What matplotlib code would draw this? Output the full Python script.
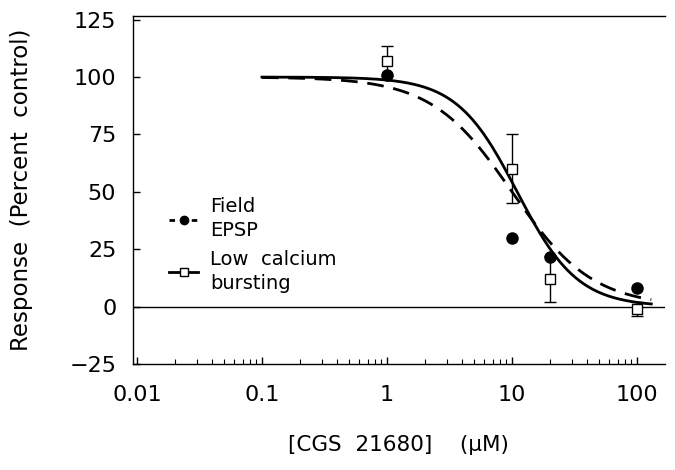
import numpy as np
import matplotlib
matplotlib.use("Agg")
import matplotlib.pyplot as plt
from matplotlib.lines import Line2D

plt.rcParams['font.family'] = ['DejaVu Sans']

# Data
conc = [1, 10, 20, 100]
field_epsp = [101, 30, 21.5, 8]
low_ca = [107, 60, 12, -1]
low_ca_err = [6.5, 15, 10, 3]

# Fitted logistic (Hill) parameters for the two curves
fit_solid_ic50, fit_solid_n = 11.0, 1.8     # Low calcium bursting
fit_dash_ic50, fit_dash_n = 10.0, 1.35      # Field EPSP
fit_range = (0.1, 130)

xticks = [0.01, 0.1, 1, 10, 100]
xticklabels = ['0.01', '0.1', '1', '10', '100']
yticks = [-25, 0, 25, 50, 75, 100, 125]

fig = plt.figure(figsize=(6.75, 4.7), dpi=100)
ax = fig.add_axes([0.197, 0.2255, 0.788, 0.74])

xs = np.logspace(np.log10(fit_range[0]), np.log10(fit_range[1]), 300)
hill = lambda x, ic, n: 100.0 / (1.0 + (x / ic) ** n)
ax.plot(xs, hill(xs, fit_dash_ic50, fit_dash_n), color='black', lw=2,
        dashes=(6, 3.5), zorder=3)
ax.plot(xs, hill(xs, fit_solid_ic50, fit_solid_n), color='black', lw=2, zorder=3)

ax.axhline(0, color='black', lw=1, zorder=2)

ax.errorbar(conc, low_ca, yerr=low_ca_err, fmt='s', ms=7, mfc='white',
            mec='black', mew=1, ecolor='black', elinewidth=1, capsize=4,
            capthick=1, zorder=4)
ax.plot(conc, field_epsp, 'o', ms=8, color='black', zorder=5)

ax.set_xscale('log')
ax.set_xlim(0.0093, 167)
ax.set_ylim(-25, 126.5)
ax.set_xticks(xticks)
ax.set_xticklabels(xticklabels)
ax.set_yticks(yticks)
ax.set_yticklabels(['\u221225' if v == -25 else str(v) for v in yticks])

ax.spines['right'].set_visible(False)
for s in ['left', 'bottom', 'top']:
    ax.spines[s].set_linewidth(1)

ax.tick_params(axis='both', which='major', direction='in', length=5, width=1,
               labelsize=16)
ax.tick_params(axis='x', which='major', pad=15)
ax.tick_params(axis='y', which='major', pad=12)
ax.tick_params(axis='x', which='minor', direction='in', length=3.5, width=0.8)

ax.set_ylabel('Response  (Percent  control)', fontsize=16.5, labelpad=26)
ax.set_xlabel('[CGS  21680]    (\u03bcM)', fontsize=15.5, labelpad=22)

handles = [
    Line2D([0], [0], color='black', lw=2, dashes=(2, 2), marker='o', ms=6),
    Line2D([0], [0], color='black', lw=2, marker='s', ms=6, mfc='white', mew=1),
]
leg = ax.legend(handles, ['Field\nEPSP', 'Low  calcium\nbursting'],
                loc='upper left', bbox_to_anchor=(0.035, 0.53), frameon=False,
                fontsize=14, handlelength=1.5, handletextpad=0.6,
                labelspacing=0.5)
for t in leg.get_texts():
    t.set_linespacing(1.35)

fig.savefig('out.png', dpi=100)
